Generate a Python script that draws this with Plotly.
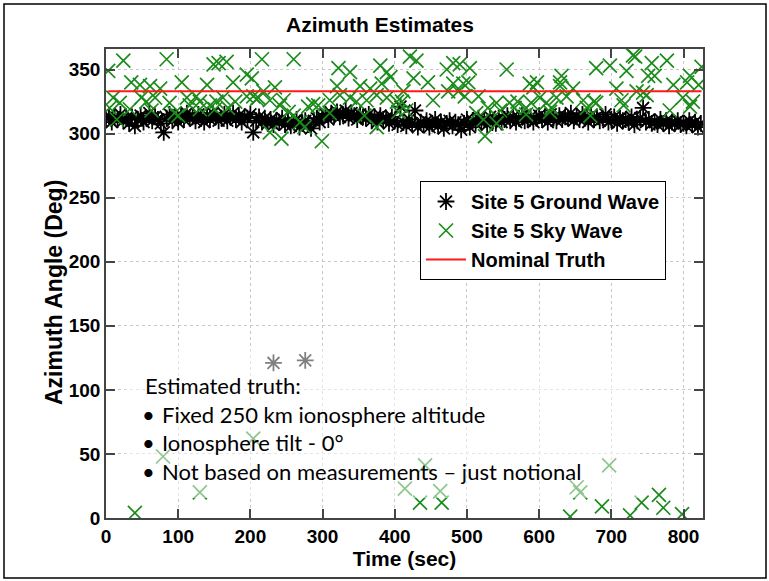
import plotly.graph_objects as go

# ---------------- data ----------------
gw_t = [0, 4, 8, 12, 16, 20, 24, 28, 32, 36,
        40, 44, 48, 52, 56, 60, 64, 68, 72, 76,
        80, 84, 88, 92, 96, 100, 104, 108, 112, 116,
        120, 124, 128, 132, 136, 140, 144, 148, 152, 156,
        160, 164, 168, 172, 176, 180, 184, 188, 192, 196,
        200, 204, 208, 212, 216, 220, 224, 228, 232, 236,
        240, 244, 248, 252, 256, 260, 264, 268, 272, 276,
        280, 284, 288, 292, 296, 300, 304, 308, 312, 316,
        320, 324, 328, 332, 336, 340, 344, 348, 352, 356,
        360, 364, 368, 372, 376, 380, 384, 388, 392, 396,
        400, 404, 408, 412, 416, 420, 424, 428, 432, 436,
        440, 444, 448, 452, 456, 460, 464, 468, 472, 476,
        480, 484, 488, 492, 496, 500, 504, 508, 512, 516,
        520, 524, 528, 532, 536, 540, 544, 548, 552, 556,
        560, 564, 568, 572, 576, 580, 584, 588, 592, 596,
        600, 604, 608, 612, 616, 620, 624, 628, 632, 636,
        640, 644, 648, 652, 656, 660, 664, 668, 672, 676,
        680, 684, 688, 692, 696, 700, 704, 708, 712, 716,
        720, 724, 728, 732, 736, 740, 744, 748, 752, 756,
        760, 764, 768, 772, 776, 780, 784, 788, 792, 796,
        800, 804, 808, 812, 816, 820, 824,
        232, 276]
gw_v = [312, 314, 309, 313, 311, 315, 310, 312, 308, 313,
        306, 311, 314, 309, 312, 316, 310, 313, 311, 308,
        301, 312, 315, 310, 313, 309, 314, 311, 316, 312,
        313, 310, 315, 312, 309, 314, 311, 316, 313, 310,
        312, 315, 310, 313, 316, 311, 314, 309, 313, 312,
        315, 301, 310, 313, 309, 312, 308, 311, 307, 310,
        309, 312, 307, 310, 306, 309, 311, 305, 308, 310,
        307, 304, 310, 312, 309, 313, 315, 311, 316, 314,
        317, 313, 315, 318, 312, 316, 314, 311, 315, 313,
        312, 315, 310, 313, 309, 314, 311, 312, 308, 313,
        310, 307, 321, 309, 306, 311, 308, 318, 305, 309,
        307, 310, 305, 308, 311, 306, 309, 304, 308, 310,
        306, 309, 307, 303, 308, 311, 305, 310, 308, 312,
        309, 311, 307, 313, 310, 308, 312, 309, 311, 314,
        310, 313, 309, 312, 314, 310, 311, 313, 309, 312,
        314, 311, 313, 309, 315, 312, 310, 314, 311, 313,
        312, 316, 310, 313, 311, 315, 312, 309, 314, 311,
        313, 310, 312, 315, 309, 311, 313, 308, 312, 310,
        311, 309, 313, 307, 310, 312, 320, 309, 311, 308,
        309, 307, 311, 308, 310, 306, 309, 308, 310, 307,
        308, 306, 310, 307, 309, 305, 308,
        121, 123]

sw_t = [3, 24, 84, 149, 156, 167, 35, 47, 61, 75, 105, 140, 195, 176,
        10, 19, 5, 49, 56, 68, 88, 112, 125, 130, 153, 162, 179, 195, 209,
        15, 33, 63, 95, 100, 116, 130, 144, 151, 169,
        216, 260, 322, 338, 380, 389, 394, 202, 218, 234, 320, 352, 366, 382,
        204, 211, 227, 241, 246, 260, 253, 269, 280, 287, 294, 310, 324, 338,
        347, 361, 375, 389, 403, 412, 227, 243, 275, 299, 310, 358, 375, 405,
        421, 430, 472, 481, 490, 504, 555, 426, 446, 481, 495, 502, 587, 597,
        629, 592, 410, 453, 474, 488, 497, 516, 513, 523, 529, 541, 546, 559,
        566, 570, 582, 589, 601, 610, 617, 541, 525, 416, 582,
        733, 756, 777, 825, 679, 698, 721, 751, 760, 809, 631, 786, 805, 821,
        629, 647, 707, 735, 744, 624, 638, 661, 676, 714, 749, 799, 813,
        615, 666, 671, 679, 717, 781, 809, 730,
        40, 79, 130, 204, 414, 435, 442, 463, 465, 643, 652, 657, 687, 697,
        726, 742, 766, 772, 798]
sw_v = [349, 357, 358, 354, 355, 356, 340, 338, 337, 335, 340, 338, 346, 340,
        328, 324, 320, 328, 325, 328, 324, 328, 329, 325, 325, 328, 325, 329, 327,
        311, 319, 318, 316, 314, 322, 319, 322, 319, 320,
        358, 358, 351, 348, 353, 348, 344, 343, 333, 336, 337, 337, 335, 339,
        329, 328, 326, 322, 326, 314, 317, 309, 321, 323, 322, 326, 330, 328,
        325, 326, 330, 328, 325, 333, 301, 296, 305, 294, 316, 314, 305, 317,
        360, 357, 350, 355, 354, 351, 350, 343, 340, 339, 339, 340, 339, 340,
        340, 336, 325, 326, 333, 333, 329, 329, 316, 311, 320, 324, 318, 324,
        320, 325, 320, 324, 328, 324, 320, 308, 298, 318, 315,
        360, 355, 357, 352, 351, 353, 349, 345, 345, 345, 345, 338, 340, 338,
        337, 335, 335, 333, 332, 328, 329, 326, 325, 326, 330, 328, 325,
        317, 320, 314, 324, 322, 318, 321, 361,
        4, 48, 20, 62, 23, 12, 41, 21, 12, 1, 24, 20, 9, 41,
        2, 12, 18, 8, 3]

truth_t = [3, 825]
truth_v = [333, 333]

x_ticks = [0, 100, 200, 300, 400, 500, 600, 700, 800]
y_ticks = [0, 50, 100, 150, 200, 250, 300, 350]

note_head = "Estimated truth:"
note_items = ["Fixed 250 km ionosphere altitude",
              "Ionosphere tilt - 0°",
              "Not based on measurements – just notional"]

# ---------------- figure ----------------
AX_FONT = "Liberation Sans, Arial, Helvetica, sans-serif"
NOTE_FONT = "Lato, Open Sans, sans-serif"
GREEN = "#1b8c1b"

# plot-area geometry in pixels
L, R, T, B = 106, 703, 49, 518
PW, PH = R - L, B - T


def px(xp):
    return (xp - L) / PW


def py(yp):
    return (B - yp) / PH


fig = go.Figure()
fig.add_trace(go.Scatter(
    x=gw_t, y=gw_v, mode="markers", name="Site 5 Ground Wave",
    marker=dict(symbol="asterisk-open", size=14, color="black",
                line=dict(color="black", width=1.8))))
fig.add_trace(go.Scatter(
    x=sw_t, y=sw_v, mode="markers", name="Site 5 Sky Wave",
    marker=dict(symbol="x-thin-open", size=14, color=GREEN,
                line=dict(color=GREEN, width=1.7))))
fig.add_trace(go.Scatter(
    x=truth_t, y=truth_v, mode="lines", name="Nominal Truth",
    line=dict(color="#ff1a1a", width=2)))

axis_common = dict(
    showline=True, linecolor="#444", linewidth=1.5, mirror="ticks",
    ticks="inside", ticklen=9, tickwidth=1.5, tickcolor="#444",
    showgrid=True, gridcolor="#c8c8c8", griddash="dot", gridwidth=1,
    zeroline=False,
    tickfont=dict(family=AX_FONT, size=19, color="black", weight="bold"),
)

fig.update_layout(
    width=769, height=581,
    margin=dict(l=L, r=769 - R, t=T, b=581 - B),
    paper_bgcolor="white", plot_bgcolor="white",
    title=dict(text="Azimuth Estimates", x=380 / 769,
               xanchor="center", y=1 - 25 / 581, yanchor="middle",
               font=dict(family=AX_FONT, size=21, color="black", weight="bold")),
    xaxis=dict(range=[0, 827], tickvals=x_ticks,
               title=dict(text="Time (sec)", standoff=6,
                          font=dict(family=AX_FONT, size=21, color="black", weight="bold")),
               **axis_common),
    yaxis=dict(range=[0, 366], tickvals=y_ticks, **axis_common),
    legend=dict(x=px(420), y=py(181), xanchor="left", yanchor="top",
                bgcolor="white", bordercolor="black", borderwidth=1,
                font=dict(family=AX_FONT, size=20, color="black", weight="bold"),
                itemwidth=40, tracegroupgap=0),
    showlegend=True,
)

# y-axis title as rotated annotation
fig.add_annotation(xref="paper", yref="paper", x=px(54), y=py(293),
                   xanchor="center", yanchor="middle", textangle=-90,
                   text="Azimuth Angle (Deg)", showarrow=False,
                   font=dict(family=AX_FONT, size=23, color="black", weight="bold"))

# translucent text box over the lower part of the axes
fig.add_shape(type="rect", xref="paper", yref="paper",
              x0=px(125), x1=px(640), y0=py(498), y1=py(350),
              fillcolor="rgba(255,255,255,0.5)", line=dict(width=0), layer="above")

# frame around the whole picture
fig.add_shape(type="rect", xref="paper", yref="paper",
              x0=px(4), x1=px(766), y0=py(578), y1=py(4),
              line=dict(color="black", width=1.5), fillcolor="rgba(0,0,0,0)")

note_font = dict(family=NOTE_FONT, size=22, color="black")
fig.add_annotation(xref="paper", yref="paper", x=px(143), y=py(385),
                   xanchor="left", yanchor="middle", text=note_head,
                   showarrow=False, font=note_font)
line_py = [414, 442, 471]
for txt, yp in zip(note_items, line_py):
    fig.add_annotation(xref="paper", yref="paper", x=px(148), y=py(yp),
                       xanchor="center", yanchor="middle", text="•",
                       showarrow=False, font=note_font)
    fig.add_annotation(xref="paper", yref="paper", x=px(160), y=py(yp),
                       xanchor="left", yanchor="middle", text=txt,
                       showarrow=False, font=note_font)

fig.write_html("out.html")
